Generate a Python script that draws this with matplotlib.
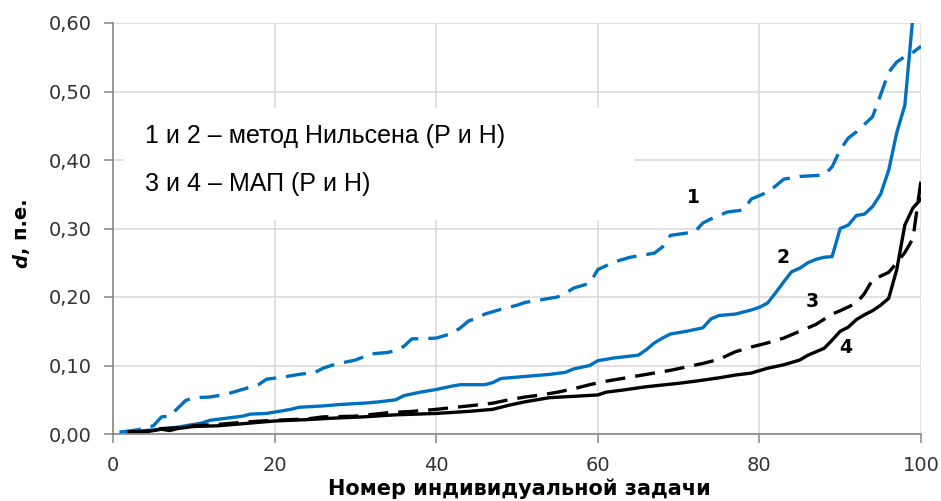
import matplotlib
matplotlib.use("Agg")
import matplotlib.pyplot as plt
from matplotlib.patches import Rectangle
from matplotlib.ticker import FuncFormatter

# task number / distance d for each curve
task_1 = [1, 3, 5, 6, 7, 9, 10, 12, 14, 16, 18, 19, 21, 23, 25, 26, 27, 28, 30, 32,
          34, 35, 36, 37, 38, 40, 42, 43, 44, 45, 46, 48, 50, 51, 53, 55, 56, 57, 59, 60,
          62, 64, 67, 68, 69, 72, 73, 74, 76, 78, 79, 81, 82, 83, 85, 88, 89, 90, 91, 92,
          94, 95, 96, 97, 98, 99, 100]
d_1 = [0.003, 0.006, 0.012, 0.025, 0.026, 0.049, 0.053, 0.054, 0.058, 0.065, 0.072, 0.080,
       0.083, 0.087, 0.090, 0.096, 0.100, 0.103, 0.108, 0.117, 0.119, 0.122, 0.128, 0.139,
       0.139, 0.140, 0.147, 0.155, 0.165, 0.169, 0.175, 0.182, 0.188, 0.192, 0.196, 0.200,
       0.205, 0.213, 0.220, 0.240, 0.251, 0.258, 0.264, 0.273, 0.290, 0.295, 0.308, 0.314,
       0.324, 0.327, 0.343, 0.353, 0.362, 0.372, 0.376, 0.378, 0.390, 0.415, 0.432, 0.441,
       0.463, 0.495, 0.528, 0.543, 0.551, 0.557, 0.566]

task_2 = [1, 3, 6, 8, 10, 11, 12, 14, 16, 17, 19, 20, 22, 23, 26, 28, 31, 33, 35, 36,
          38, 40, 42, 43, 46, 47, 48, 50, 52, 54, 56, 57, 59, 60, 62, 65, 66, 67, 68, 69,
          71, 73, 74, 75, 77, 79, 80, 81, 82, 83, 84, 85, 86, 87, 88, 89, 90, 91, 92, 93,
          94, 95, 96, 97, 98, 99, 100]
d_2 = [0.003, 0.004, 0.007, 0.010, 0.014, 0.016, 0.020, 0.023, 0.026, 0.029, 0.030, 0.032,
       0.036, 0.039, 0.041, 0.043, 0.045, 0.047, 0.050, 0.056, 0.061, 0.065, 0.070, 0.072,
       0.072, 0.075, 0.081, 0.083, 0.085, 0.087, 0.090, 0.095, 0.100, 0.107, 0.111, 0.115,
       0.123, 0.133, 0.140, 0.146, 0.150, 0.155, 0.168, 0.173, 0.175, 0.181, 0.185, 0.191,
       0.206, 0.222, 0.237, 0.242, 0.250, 0.255, 0.258, 0.259, 0.300, 0.305, 0.319, 0.321,
       0.332, 0.350, 0.385, 0.440, 0.480, 0.610, 0.680]

task_3 = [2, 4, 6, 8, 10, 13, 15, 17, 20, 24, 26, 30, 34, 37, 40, 44, 47, 49, 51, 53,
          55, 57, 59, 61, 65, 69, 71, 73, 75, 77, 79, 81, 83, 85, 87, 89, 90, 92, 93, 94,
          96, 97, 98, 99, 100]
d_3 = [0.003, 0.004, 0.008, 0.009, 0.012, 0.014, 0.016, 0.018, 0.020, 0.022, 0.025, 0.026,
       0.031, 0.033, 0.036, 0.041, 0.045, 0.050, 0.054, 0.057, 0.061, 0.066, 0.072, 0.077,
       0.085, 0.093, 0.098, 0.103, 0.109, 0.120, 0.127, 0.133, 0.140, 0.150, 0.160, 0.175,
       0.180, 0.191, 0.205, 0.225, 0.236, 0.250, 0.265, 0.285, 0.370]

task_4 = [2, 4, 6, 7, 8, 10, 13, 15, 17, 20, 24, 27, 31, 35, 40, 44, 47, 49, 51, 54,
          57, 60, 61, 63, 66, 70, 72, 75, 77, 79, 81, 83, 85, 86, 88, 89, 90, 91, 92, 93,
          94, 95, 96, 97, 98, 99, 100]
d_4 = [0.003, 0.003, 0.007, 0.005, 0.008, 0.011, 0.012, 0.014, 0.016, 0.019, 0.021, 0.023,
       0.025, 0.028, 0.030, 0.033, 0.036, 0.042, 0.047, 0.053, 0.055, 0.057, 0.061, 0.064,
       0.069, 0.074, 0.077, 0.082, 0.086, 0.089, 0.096, 0.101, 0.108, 0.115, 0.125, 0.137,
       0.150, 0.156, 0.167, 0.174, 0.180, 0.188, 0.198, 0.240, 0.305, 0.330, 0.343]

curve_labels = ["1", "2", "3", "4"]
label_pos = [(71.8, 0.345), (82.9, 0.257), (86.6, 0.193), (90.7, 0.127)]

note_lines = ["1 и 2 – метод Нильсена (Р и Н)", "3 и 4 – МАП (Р и Н)"]
x_ticks = [0, 20, 40, 60, 80, 100]
y_ticks = [0.0, 0.1, 0.2, 0.3, 0.4, 0.5, 0.6]

BLUE = "#0070C0"
W, H = 941, 501


def px(x, y):
    """pixel position (from top-left) -> figure fraction"""
    return x / W, 1 - y / H


fig = plt.figure(figsize=(W / 100, H / 100), dpi=100)
ax = fig.add_axes([113 / W, 1 - 434 / H, 808 / W, 411 / H])

ax.plot(task_1, d_1, color=BLUE, lw=2.4, dashes=(6, 3))
ax.plot(task_2, d_2, color=BLUE, lw=2.4)
ax.plot(task_3, d_3, color="black", lw=2.4, dashes=(6, 3))
ax.plot(task_4, d_4, color="black", lw=2.4)

for lab, (xl, yl) in zip(curve_labels, label_pos):
    ax.text(xl, yl, lab, fontsize=13.5, fontweight="bold", ha="center", va="center")

ax.set_xlim(0, 100)
ax.set_ylim(0, 0.6)
ax.set_xticks(x_ticks)
ax.set_yticks(y_ticks)
ax.yaxis.set_major_formatter(FuncFormatter(lambda v, _: f"{v:.2f}".replace(".", ",")))
ax.grid(True, color="#d9d9d9", lw=1.1)
ax.set_axisbelow(True)
for side in ("top", "right"):
    ax.spines[side].set_visible(False)
for side in ("left", "bottom"):
    ax.spines[side].set_color("#868686")
    ax.spines[side].set_linewidth(1.2)
ax.tick_params(direction="out", length=6.5, width=1.1, color="#868686",
               labelsize=14, labelcolor="#333333", pad=9)

# white note box over the grid
ax.add_patch(Rectangle((1.4, 0.312), 63.1, 0.164, facecolor="white",
                       edgecolor="none", zorder=1.5))
fig.text(*px(145, 143), note_lines[0], fontsize=18, family="Liberation Sans",
         ha="left", va="baseline")
fig.text(*px(145, 191), note_lines[1], fontsize=18, family="Liberation Sans",
         ha="left", va="baseline")

# axis titles
fig.text(*px(519, 499), "Номер индивидуальной задачи", fontsize=15,
         fontweight="bold", ha="center", va="bottom")
fig.text(*px(22, 268), "d", fontsize=14, fontweight="bold", style="italic",
         rotation=90, ha="center", va="bottom")
fig.text(*px(22, 254), ", п.е.", fontsize=14, fontweight="bold",
         rotation=90, ha="center", va="bottom")

fig.savefig("out.png", dpi=100)
